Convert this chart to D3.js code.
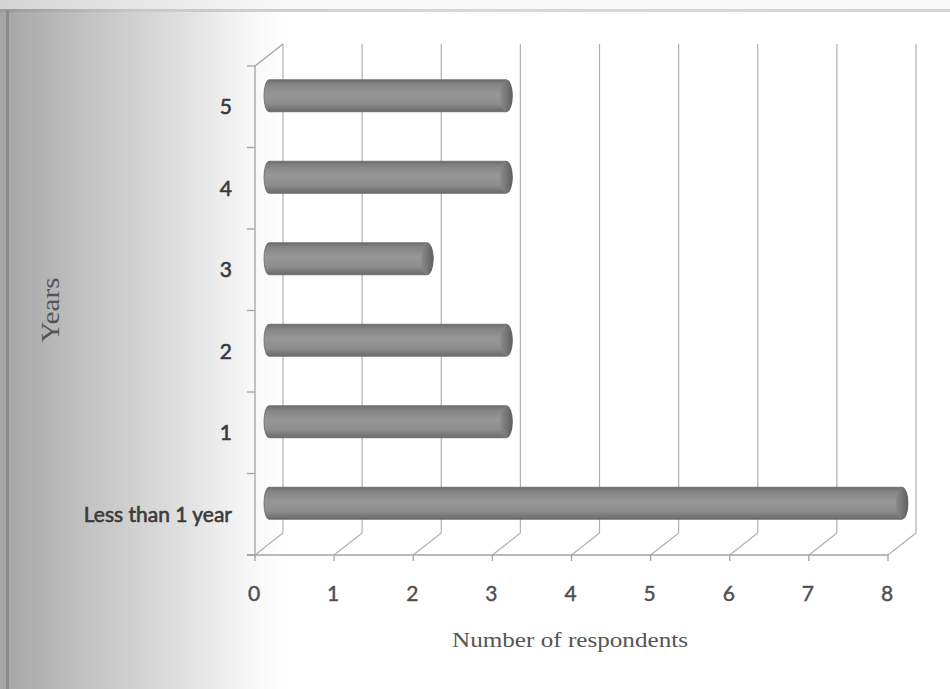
<!DOCTYPE html>
<html lang="en">
<head>
  <meta charset="UTF-8">
  <title>Years vs number of respondents</title>
  <script src="https://d3js.org/d3.v7.min.js"></script>
  <style>
    body { margin: 0; background: #fff; }
    .grid { stroke: #b0b0b0; stroke-width: 1.2; fill: none; }
    .axisline { stroke: #a3a3a3; stroke-width: 1.3; fill: none; }
    .ylab { font-family: Lato, "Open Sans", sans-serif; font-size: 21px; fill: #3a3a3a; stroke: #3a3a3a; stroke-width: 0.6; text-anchor: end; }
    .xlab { font-family: Lato, "Open Sans", sans-serif; font-size: 21px; fill: #505050; stroke: #505050; stroke-width: 0.45; text-anchor: middle; }
    .title { font-family: "Liberation Serif", "DejaVu Serif", serif; fill: #555; text-anchor: middle; }
  </style>
</head>
<body>
  <svg id="chart" width="950" height="689"></svg>

  <script>
    const categories = ["5", "4", "3", "2", "1", "Less than 1 year"];
    const respondents = [3, 3, 2, 3, 3, 8];
    const xTicks = [0, 1, 2, 3, 4, 5, 6, 7, 8];

    const svg = d3.select("#chart");
    const width = +svg.attr("width");
    const height = +svg.attr("height");

    // 3d depth offset of the back wall
    const dx = 28, dy = -22;
    const barH = 32;

    const x = d3.scaleLinear().domain([0, 8]).range([255, 888]);
    const y = d3.scaleBand().domain(categories).range([66, 555]);
    const floorY = y.range()[1];
    const topY = y.range()[0];

    const defs = svg.append("defs");

    // scanned page shading on the left
    const bg = defs.append("linearGradient").attr("id", "bg");
    [[0, "#a4a4a4"], [0.09, "#c2c2c2"], [0.2, "#e2e2e2"], [0.26, "#f6f6f6"], [0.3, "#ffffff"], [1, "#ffffff"]]
      .forEach(s => bg.append("stop").attr("offset", s[0]).attr("stop-color", s[1]));

    const topShade = defs.append("linearGradient").attr("id", "topShade");
    [[0, "#9a9a9a"], [0.15, "#c8c8c8"], [0.5, "#d8d8d8"], [1, "#d4d4d4"]]
      .forEach(s => topShade.append("stop").attr("offset", s[0]).attr("stop-color", s[1]));

    const cyl = defs.append("linearGradient").attr("id", "cyl")
      .attr("x1", 0).attr("y1", 0).attr("x2", 0).attr("y2", 1);
    [[0, "#6e6e6e"], [0.15, "#858585"], [0.45, "#979797"], [0.75, "#8d8d8d"], [1, "#6a6a6a"]]
      .forEach(s => cyl.append("stop").attr("offset", s[0]).attr("stop-color", s[1]));

    const cap = defs.append("linearGradient").attr("id", "cap");
    [[0, "#8a8a8a"], [0.5, "#767676"], [1, "#5e5e5e"]]
      .forEach(s => cap.append("stop").attr("offset", s[0]).attr("stop-color", s[1]));

    svg.append("rect").attr("width", width).attr("height", height).attr("fill", "url(#bg)");
    svg.append("rect").attr("width", width).attr("height", 10).attr("fill", "#f4f4f4").attr("opacity", 0.6);
    svg.append("rect").attr("y", 9).attr("width", width).attr("height", 3).attr("fill", "url(#topShade)");
    svg.append("rect").attr("x", 6).attr("y", 10).attr("width", 3).attr("height", height - 10).attr("fill", "#8c8c8c");

    // back wall gridlines
    svg.selectAll(".gridv").data(xTicks).join("line")
      .attr("class", "grid")
      .attr("x1", d => x(d) + dx).attr("x2", d => x(d) + dx)
      .attr("y1", topY + dy).attr("y2", floorY + dy);

    // floor diagonals
    svg.selectAll(".diag").data(xTicks).join("line")
      .attr("class", "grid")
      .attr("x1", d => x(d)).attr("y1", floorY)
      .attr("x2", d => x(d) + dx).attr("y2", floorY + dy);

    // left wall front edge and top corner
    svg.append("line").attr("class", "axisline")
      .attr("x1", x(0)).attr("x2", x(0)).attr("y1", topY).attr("y2", floorY + 2);
    svg.append("line").attr("class", "axisline")
      .attr("x1", x(0)).attr("y1", topY).attr("x2", x(0) + dx).attr("y2", topY + dy);

    // front floor edge
    svg.append("line").attr("class", "axisline")
      .attr("x1", x(0) - 8).attr("x2", x(8)).attr("y1", floorY).attr("y2", floorY);

    // x ticks
    svg.selectAll(".xt").data(xTicks).join("line")
      .attr("class", "axisline")
      .attr("x1", d => x(d)).attr("x2", d => x(d))
      .attr("y1", floorY).attr("y2", floorY + 6);

    // y ticks on band boundaries
    const bounds = categories.map(c => y(c)).concat([floorY]);
    svg.selectAll(".yt").data(bounds).join("line")
      .attr("class", "axisline")
      .attr("x1", x(0) - 8).attr("x2", x(0))
      .attr("y1", d => d).attr("y2", d => d);

    // cylinders
    const bars = categories.map((c, i) => ({ c, v: respondents[i] }));
    const rx = 6;
    const g = svg.append("g");
    bars.forEach(d => {
      const cy = y(d.c) + y.bandwidth() / 2 + dy / 2;
      const x0 = x(0) + dx / 2;
      const x1 = x(d.v) + dx / 2;
      const t = cy - barH / 2, b = cy + barH / 2;
      g.append("path")
        .attr("d", `M${x0},${t} L${x1},${t} A${rx},${barH / 2} 0 0 1 ${x1},${b} L${x0},${b} A${rx - 1},${barH / 2} 0 0 1 ${x0},${t} Z`)
        .attr("fill", "url(#cyl)")
        .attr("stroke", "#666").attr("stroke-width", 0.8);
      g.append("ellipse")
        .attr("cx", x1).attr("cy", cy).attr("rx", rx).attr("ry", barH / 2)
        .attr("fill", "url(#cap)");
    });

    // y labels
    svg.selectAll(".ylab").data(categories).join("text")
      .attr("class", "ylab")
      .attr("x", x(0) - 23)
      .attr("y", d => y(d) + y.bandwidth() / 2)
      .attr("dy", "0.35em")
      .text(d => d);

    // x labels
    svg.selectAll(".xlab").data(xTicks).join("text")
      .attr("class", "xlab")
      .attr("x", d => x(d) - 1)
      .attr("y", floorY + 46)
      .text(d => d);

    // axis titles
    svg.append("text").attr("class", "title")
      .attr("x", 570).attr("y", 647)
      .attr("font-size", 20)
      .attr("textLength", 236).attr("lengthAdjust", "spacingAndGlyphs")
      .text("Number of respondents");

    svg.append("text").attr("class", "title")
      .attr("transform", "translate(59,310) rotate(-90)")
      .attr("font-size", 25)
      .attr("fill", "#4a4a4a")
      .attr("textLength", 65).attr("lengthAdjust", "spacingAndGlyphs")
      .text("Years");
  </script>
</body>
</html>
